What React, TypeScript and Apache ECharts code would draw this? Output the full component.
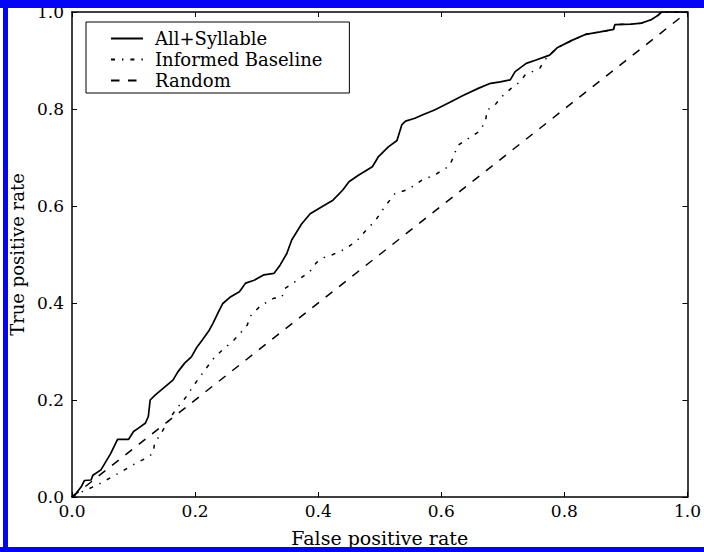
import React, { useEffect, useRef } from "react";
import * as echarts from "echarts";

const seriesNames = ["All+Syllable", "Informed Baseline", "Random"];

const syllableFpr = [
  0, 0.007, 0.015, 0.02, 0.031, 0.034, 0.047, 0.055, 0.063, 0.074, 0.092, 0.1,
  0.108, 0.119, 0.124, 0.127, 0.135, 0.148, 0.164, 0.172, 0.183, 0.194, 0.202,
  0.212, 0.223, 0.229, 0.237, 0.245, 0.258, 0.272, 0.282, 0.296, 0.312, 0.328,
  0.338, 0.349, 0.357, 0.373, 0.387, 0.408, 0.424, 0.44, 0.45, 0.466, 0.488,
  0.498, 0.514, 0.528, 0.536, 0.542, 0.557, 0.57, 0.589, 0.614, 0.637, 0.661,
  0.68, 0.696, 0.712, 0.72, 0.738, 0.754, 0.776, 0.789, 0.813, 0.835, 0.858,
  0.88, 0.882, 0.909, 0.925, 0.941, 0.952, 0.958, 1.0,
];
const syllableTpr = [
  0, 0.008, 0.021, 0.034, 0.035, 0.045, 0.056, 0.073, 0.09, 0.119, 0.119, 0.135,
  0.142, 0.152, 0.166, 0.2, 0.21, 0.224, 0.241, 0.258, 0.276, 0.289, 0.307,
  0.324, 0.344, 0.358, 0.379, 0.399, 0.413, 0.423, 0.441, 0.447, 0.458, 0.461,
  0.478, 0.502, 0.53, 0.563, 0.584, 0.6, 0.612, 0.633, 0.65, 0.664, 0.681,
  0.702, 0.722, 0.735, 0.768, 0.775, 0.781, 0.788, 0.798, 0.814, 0.829, 0.843,
  0.853, 0.856, 0.86, 0.877, 0.894, 0.901, 0.911, 0.927, 0.942, 0.954, 0.959,
  0.964, 0.974, 0.975, 0.977, 0.984, 0.993, 1.0, 1.0,
];

const baselineFpr = [
  0, 0.015, 0.04, 0.06, 0.08, 0.1, 0.12, 0.132, 0.134, 0.146, 0.157, 0.168,
  0.184, 0.2, 0.216, 0.232, 0.248, 0.262, 0.275, 0.285, 0.289, 0.306, 0.328,
  0.341, 0.346, 0.365, 0.386, 0.397, 0.41, 0.424, 0.445, 0.464, 0.477, 0.493,
  0.509, 0.525, 0.546, 0.568, 0.589, 0.613, 0.621, 0.626, 0.64, 0.661, 0.672,
  0.674, 0.685, 0.701, 0.714, 0.728, 0.736, 0.76, 0.768, 0.786, 0.813, 0.835,
  0.858, 0.88, 0.882, 0.909, 0.925, 0.941, 0.952, 0.958, 1.0,
];
const baselineTpr = [
  0, 0.01, 0.024, 0.038, 0.052, 0.067, 0.08, 0.09, 0.11, 0.134, 0.158, 0.179,
  0.204, 0.234, 0.262, 0.289, 0.307, 0.322, 0.34, 0.355, 0.372, 0.394, 0.41,
  0.412, 0.43, 0.446, 0.464, 0.483, 0.494, 0.5, 0.512, 0.53, 0.549, 0.57, 0.6,
  0.626, 0.634, 0.653, 0.664, 0.682, 0.705, 0.724, 0.736, 0.753, 0.774, 0.798,
  0.805, 0.829, 0.843, 0.856, 0.87, 0.884, 0.901, 0.924, 0.942, 0.954, 0.959,
  0.964, 0.974, 0.975, 0.977, 0.984, 0.993, 1.0, 1.0,
];

const randomFpr = [0, 1];
const randomTpr = [0, 1];

const zip = (xs: number[], ys: number[]) => xs.map((x, i) => [x, ys[i]]);

const FONT = "DejaVu Serif";

export default function App() {
  const ref = useRef<HTMLDivElement>(null);

  useEffect(() => {
    if (!ref.current) return;
    const chart = echarts.init(ref.current, undefined, { renderer: "svg" });

    const axisBase = {
      type: "value" as const,
      min: 0,
      max: 1,
      interval: 0.2,
      axisLine: { show: true, onZero: false, lineStyle: { color: "#000", width: 1.5 } },
      axisTick: { show: true, inside: true, length: 5, lineStyle: { color: "#000", width: 1 } },
      splitLine: { show: false },
    };

    chart.setOption({
      animation: false,
      backgroundColor: "#fff",
      grid: { left: 72, top: 12, width: 625, height: 485, containLabel: false },
      legend: {
        data: seriesNames,
        orient: "vertical",
        left: 86,
        top: 22,
        padding: [6, 27, 2, 24],
        itemWidth: 32,
        itemHeight: 14,
        itemGap: 0,
        borderColor: "#000",
        borderWidth: 1,
        borderRadius: 0,
        backgroundColor: "#fff",
        itemStyle: { opacity: 0, borderWidth: 0 },
        textStyle: {
          fontFamily: FONT,
          fontSize: 18,
          color: "#000",
          lineHeight: 21,
          padding: [0, 0, 0, 7],
        },
      },
      xAxis: [
        {
          ...axisBase,
          position: "bottom",
          axisLabel: {
            margin: 5,
            fontFamily: FONT,
            fontSize: 17,
            color: "#000",
            formatter: (v: number) => v.toFixed(1),
          },
          name: "False positive rate",
          nameLocation: "middle",
          nameGap: 31,
          nameTextStyle: { fontFamily: FONT, fontSize: 19, color: "#000" },
        },
        { ...axisBase, position: "top", axisLabel: { show: false } },
      ],
      yAxis: [
        {
          ...axisBase,
          position: "left",
          axisLabel: {
            margin: 8,
            fontFamily: FONT,
            fontSize: 17,
            color: "#000",
            formatter: (v: number) => v.toFixed(1),
          },
          name: "True positive rate",
          nameLocation: "middle",
          nameGap: 45,
          nameTextStyle: { fontFamily: FONT, fontSize: 18, color: "#000" },
        },
        { ...axisBase, position: "right", axisLabel: { show: false } },
      ],
      series: [
        {
          name: seriesNames[0],
          type: "line",
          xAxisIndex: 0,
          yAxisIndex: 0,
          data: zip(syllableFpr, syllableTpr),
          symbol: "none",
          showSymbol: false,
          lineStyle: { color: "#000", width: 1.7, type: "solid" },
          itemStyle: { color: "#000" },
          z: 3,
        },
        {
          name: seriesNames[1],
          type: "line",
          xAxisIndex: 0,
          yAxisIndex: 0,
          data: zip(baselineFpr, baselineTpr),
          symbol: "none",
          showSymbol: false,
          lineStyle: { color: "#000", width: 1.5, type: [4, 7, 1.4, 7] },
          itemStyle: { color: "#000" },
          z: 2,
        },
        {
          name: seriesNames[2],
          type: "line",
          xAxisIndex: 0,
          yAxisIndex: 0,
          data: zip(randomFpr, randomTpr),
          symbol: "none",
          showSymbol: false,
          lineStyle: { color: "#000", width: 1.5, type: [8.5, 8.5] },
          itemStyle: { color: "#000" },
          z: 1,
        },
      ],
      graphic: [
        { type: "rect", z: 100, silent: true, shape: { x: 0, y: 0, width: 704, height: 8 }, style: { fill: "#0505f5" } },
        { type: "rect", z: 100, silent: true, shape: { x: 3, y: 0, width: 5, height: 552 }, style: { fill: "#0505f5" } },
        { type: "rect", z: 100, silent: true, shape: { x: 0, y: 547, width: 704, height: 5 }, style: { fill: "#0505f5" } },
      ],
    });

    return () => chart.dispose();
  }, []);

  return (
    <div
      ref={ref}
      style={{ position: "fixed", left: 0, top: 0, width: 704, height: 552, background: "#fff" }}
    />
  );
}
